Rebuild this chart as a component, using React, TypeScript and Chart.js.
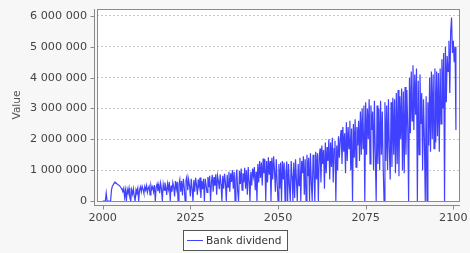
import React, { useEffect, useRef } from "react";
import { Chart, registerables } from "chart.js";

Chart.register(...registerables);

// Quarterly observations starting at 2000.0 (values in thousands)
const startYear = 2000;
const stepsPerYear = 4;
const dividendK: number[] = [
  0, 0, 0, 0, // 2000
  260, 0, 0, 0,
  0, 0, 350, 480,
  520, 580, 610, 590,
  560, 540, 520, 500,
  470, 420, 380, 300, // 2005
  410, 120, 350, 0,
  380, 250, 420, 100,
  0, 360, 220, 400,
  150, 0, 380, 300,
  420, 0, 350, 460, // 2010
  300, 480, 380, 250,
  470, 350, 500, 280,
  420, 480, 200, 510,
  380, 460, 300, 520,
  0, 450, 550, 320, // 2015
  520, 250, 580, 400,
  0, 540, 350, 600,
  450, 200, 560, 380,
  620, 0, 500, 300,
  600, 450, 150, 650, // 2020
  400, 620, 0, 550,
  700, 300, 650, 180,
  720, 450, 0, 680,
  790, 350, 700, 500,
  150, 720, 400, 0, // 2025
  680, 300, 750, 520,
  200, 700, 450, 760,
  100, 650, 380, 720,
  0, 720, 500, 280,
  780, 450, 820, 0, // 2030
  600, 850, 300, 780,
  500, 870, 200, 820,
  650, 380, 860, 550,
  0, 820, 400, 880,
  600, 0, 850, 450, // 2035
  950, 300, 900, 620,
  1000, 400, 950, 0,
  700, 1020, 300, 0,
  980, 550, 1050, 350,
  900, 600, 1080, 400, // 2040
  1000, 200, 1100, 650,
  0, 950, 500, 1050,
  800, 1100, 350, 950,
  0, 1200, 600, 1300,
  750, 1250, 500, 1380, // 2045
  900, 1350, 0, 1300,
  600, 1420, 850, 1300,
  0, 1400, 700, 1450,
  1000, 300, 1350, 600,
  0, 1200, 400, 1250, // 2050
  0, 1300, 700, 1250,
  0, 900, 1280, 0,
  1200, 500, 0, 1300,
  800, 0, 1250, 100,
  1350, 700, 0, 1200, // 2055
  500, 1400, 0, 1300,
  900, 1450, 200, 1350,
  0, 1500, 800, 1400,
  0, 1550, 600, 0,
  1500, 900, 0, 1600, // 2060
  700, 1550, 0, 1450,
  1700, 600, 1800, 1200,
  1650, 400, 1900, 900,
  1750, 1300, 2000, 700,
  1900, 1100, 2050, 600, // 2065
  1700, 1950, 0, 1800,
  1000, 2100, 1400, 2000,
  2300, 1200, 2400, 1600,
  2200, 900, 2550, 1300,
  2400, 1700, 2600, 1000, // 2070
  2350, 0, 2500, 1400,
  2650, 1100, 2400, 1800,
  2600, 1300, 2900, 1500,
  3000, 1700, 3100, 0,
  3200, 1500, 3000, 2000, // 2075
  3300, 1200, 3100, 2300,
  2900, 1000, 3250, 1500,
  0, 3100, 1200, 3000,
  1000, 3250, 1500, 2900,
  1100, 0, 3200, 1300, // 2080
  3100, 1000, 3300, 1700,
  700, 3200, 1100, 3350,
  1500, 3300, 900, 3500,
  1200, 3600, 800, 3400,
  2000, 3650, 1000, 3550, // 2085
  900, 3700, 1500, 3600,
  2400, 0, 4000, 2200,
  4200, 2600, 4400, 2300,
  4100, 2800, 4300, 0,
  3900, 1500, 4100, 2500, // 2090
  3500, 1000, 3300, 2000,
  0, 3400, 0, 3200,
  1800, 4000, 1600, 4200,
  2000, 4100, 1700, 4300,
  1900, 4200, 2100, 4150, // 2095
  1600, 4300, 2500, 4600,
  3000, 4800, 0, 5000,
  3200, 4700, 4200, 5200,
  3500, 5500, 5950, 4800,
  5200, 4500, 5000, 2300, // 2100
];

const xTicks = [2000, 2025, 2050, 2075, 2100];
const yTicks = [0, 1000000, 2000000, 3000000, 4000000, 5000000, 6000000];
const seriesLabel = "Bank dividend";
const yAxisTitle = "Value";

const LINE_COLOR = "#4040ff";
const FONT = '"DejaVu Sans", sans-serif';

function fmt(v: number): string {
  return Math.round(v)
    .toString()
    .replace(/\B(?=(\d{3})+(?!\d))/g, " ");
}

const decorPlugin = {
  id: "decor",
  beforeDraw(chart: any) {
    const { ctx, chartArea: a, width, height } = chart;
    ctx.save();
    ctx.fillStyle = "#f7f7f7";
    ctx.fillRect(0, 0, width, height);
    ctx.fillStyle = "#ffffff";
    ctx.fillRect(a.left, a.top, a.right - a.left, a.bottom - a.top);
    ctx.restore();
  },
  afterDraw(chart: any) {
    const { ctx, chartArea: a, scales } = chart;
    ctx.save();
    ctx.strokeStyle = "#8a8a8a";
    ctx.lineWidth = 1;
    // plot border
    ctx.strokeRect(a.left + 0.5, a.top + 0.5, a.right - a.left - 1, a.bottom - a.top);
    // y axis line and ticks (offset from plot)
    const ax = Math.round(a.left) - 2.5;
    ctx.beginPath();
    ctx.moveTo(ax, a.top);
    ctx.lineTo(ax, a.bottom + 4);
    for (const t of yTicks) {
      const y = Math.round(scales.y.getPixelForValue(t)) + 0.5;
      ctx.moveTo(ax - 4, y);
      ctx.lineTo(ax, y);
    }
    // x axis line and ticks
    const ay = Math.round(a.bottom) + 4.5;
    ctx.moveTo(a.left - 3, ay);
    ctx.lineTo(a.right, ay);
    for (const t of xTicks) {
      const x = Math.round(scales.x.getPixelForValue(t)) + 0.5;
      ctx.moveTo(x, ay);
      ctx.lineTo(x, ay + 4);
    }
    ctx.stroke();

    // legend
    const lx = 183.5, ly = 230.5, lw = 104, lh = 20;
    ctx.fillStyle = "#ffffff";
    ctx.fillRect(lx, ly, lw, lh);
    ctx.strokeStyle = "#555555";
    ctx.strokeRect(lx, ly, lw, lh);
    ctx.strokeStyle = LINE_COLOR;
    ctx.beginPath();
    ctx.moveTo(187, 240.5);
    ctx.lineTo(203, 240.5);
    ctx.stroke();
    ctx.fillStyle = "#333333";
    ctx.font = `10.6px ${FONT}`;
    ctx.textBaseline = "middle";
    ctx.textAlign = "left";
    ctx.fillText(seriesLabel, 206, 241);
    ctx.restore();
  },
};

export default function App() {
  const ref = useRef<HTMLCanvasElement | null>(null);

  useEffect(() => {
    if (!ref.current) return;
    const points = dividendK.map((v, i) => ({ x: startYear + i / stepsPerYear, y: v * 1000 }));
    const chart = new Chart(ref.current, {
      type: "line",
      data: {
        datasets: [
          {
            label: seriesLabel,
            data: points,
            borderColor: LINE_COLOR,
            backgroundColor: LINE_COLOR,
            borderWidth: 1.2,
            pointRadius: 0,
            tension: 0,
            fill: false,
          },
        ],
      },
      options: {
        animation: false,
        responsive: false,
        devicePixelRatio: 1,
        layout: { padding: { top: 9, right: 10, left: 0, bottom: 0 } },
        plugins: { legend: { display: false }, tooltip: { enabled: false } },
        scales: {
          x: {
            type: "linear",
            min: 1998.37,
            max: 2101.91,
            afterBuildTicks: (s: any) => {
              s.ticks = xTicks.map((v) => ({ value: v }));
            },
            afterFit: (s: any) => {
              s.height = 52;
              s.paddingLeft = 0;
              s.paddingRight = 0;
            },
            grid: { display: false, drawTicks: false },
            border: { display: false },
            ticks: {
              autoSkip: false,
              maxRotation: 0,
              padding: 10,
              color: "#444444",
              font: { family: FONT, size: 11.2 },
              callback: (v: any) => String(v),
            },
          },
          y: {
            min: 0,
            max: 6227000,
            afterBuildTicks: (s: any) => {
              s.ticks = yTicks.map((v) => ({ value: v }));
            },
            afterFit: (s: any) => {
              s.width = 97;
              s.paddingTop = 0;
              s.paddingBottom = 0;
            },
            grid: { color: "#c8c8c8", drawTicks: false },
            border: { display: false, dash: [2, 2] },
            ticks: {
              padding: 10,
              color: "#444444",
              font: { family: FONT, size: 11.2 },
              callback: (v: any) => fmt(Number(v)),
            },
            title: {
              display: true,
              text: yAxisTitle,
              color: "#555555",
              font: { family: FONT, size: 10.6 },
              padding: { top: 11, bottom: 0 },
            },
          },
        },
      },
      plugins: [decorPlugin],
    });
    return () => chart.destroy();
  }, []);

  return (
    <div style={{ position: "fixed", left: 0, top: 0, width: 470, height: 253 }}>
      <canvas ref={ref} width={470} height={253} style={{ display: "block" }} />
    </div>
  );
}
